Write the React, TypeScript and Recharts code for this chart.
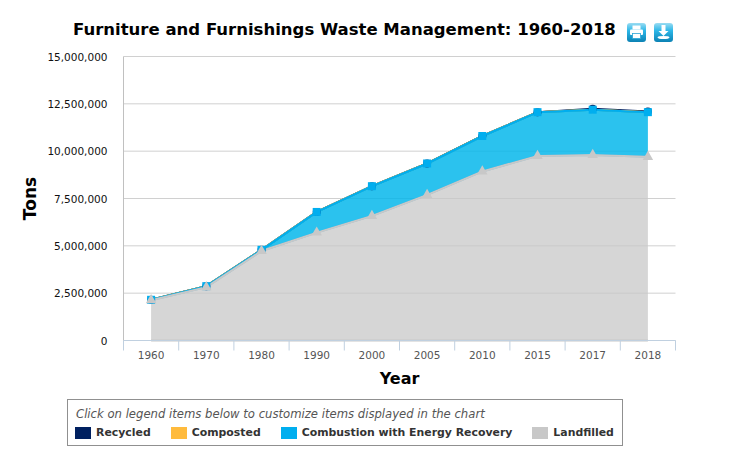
import {
  Area,
  AreaChart,
  CartesianGrid,
  ReferenceArea,
  Symbols,
  XAxis,
  YAxis,
} from "recharts";

const years = ["1960", "1970", "1980", "1990", "2000", "2005", "2010", "2015", "2017", "2018"];
const recycled = [0, 0, 0, 0, 0, 0, 0, 0, 50000, 40000];
const composted = [0, 0, 0, 0, 0, 0, 0, 0, 0, 0];
const combustion = [20000, 50000, 60000, 1090000, 1570000, 1660000, 1870000, 2310000, 2390000, 2360000];
const landfilled = [2130000, 2820000, 4730000, 5700000, 6580000, 7690000, 8930000, 9750000, 9800000, 9700000];
const yTicks = [0, 2500000, 5000000, 7500000, 10000000, 12500000, 15000000];
const legendNames = ["Recycled", "Composted", "Combustion with Energy Recovery", "Landfilled"];
const legendColors = ["#002060", "#FFBB3D", "#00AEEF", "#C8C8C8"];

const COLORS = { recycled: "#002060", composted: "#FFBB3D", combustion: "#00AEEF", landfilled: "#C8C8C8" };
const FONT = "'DejaVu Sans', sans-serif";
const WIDTH = 731;
const HEIGHT = 450;
const PLOT_LEFT = 123.5;
const PLOT_RIGHT = 675.5;
const PLOT_TOP = 56.5;
const PLOT_BOTTOM = 340.5;
const BAND = (PLOT_RIGHT - PLOT_LEFT) / years.length;
const AXIS_BLUE = "#C0D0E0";

// stacked by hand so landfilled is drawn last, on top of the others
const data = years.map((year, i) => {
  const a = landfilled[i];
  const b = a + combustion[i];
  const c = b + composted[i];
  const d = c + recycled[i];
  return {
    year,
    landfilled: [0, a],
    combustion: [a, b],
    composted: [b, c],
    recycled: [c, d],
  };
});

const XTick = ({ x, y, payload, index }: any) => (
  <g>
    <line x1={x - BAND / 2} x2={x - BAND / 2} y1={y - 10} y2={y} stroke={AXIS_BLUE} />
    {index === years.length - 1 && (
      <line x1={x + BAND / 2} x2={x + BAND / 2} y1={y - 10} y2={y} stroke={AXIS_BLUE} />
    )}
    <text x={x} y={y + 8.5} textAnchor="middle" fontSize={10.5} fontFamily={FONT} fill="#555555">
      {payload.value}
    </text>
  </g>
);

const marker = (type: any, size: number, color: string) => (props: any) => (
  <Symbols key={props.index} type={type} size={size} cx={props.cx} cy={props.cy} fill={color} stroke="none" />
);

const LegendBox = () => (
  <div
    style={{
      position: "absolute",
      left: 67,
      top: 399,
      boxSizing: "border-box",
      width: 556,
      height: 47,
      border: "1px solid #909090",
      padding: "6px 7px",
      fontFamily: FONT,
    }}
  >
    <div style={{ fontSize: 11.65, fontStyle: "italic", color: "#555555", lineHeight: "16px", paddingLeft: 1 }}>
      Click on legend items below to customize items displayed in the chart
    </div>
    <div style={{ display: "flex", marginTop: 4 }}>
      {legendNames.map((name, i) => (
        <div key={name} style={{ display: "flex", alignItems: "center", marginRight: 20, whiteSpace: "nowrap" }}>
          <span style={{ width: 16, height: 12, background: legendColors[i], marginRight: 5 }} />
          <span style={{ fontSize: 10.9, fontWeight: "bold", color: "#333333", lineHeight: "14px" }}>{name}</span>
        </div>
      ))}
    </div>
  </div>
);

const IconButton = ({ left, children }: { left: number; children: React.ReactNode }) => (
  <svg width={19} height={19} viewBox="0 0 19 19" style={{ position: "absolute", left, top: 23 }}>
    <defs>
      <linearGradient id={`btn${left}`} x1="0" y1="0" x2="0" y2="1">
        <stop offset="0" stopColor="#9ADCF2" />
        <stop offset="0.4" stopColor="#2DB7E8" />
        <stop offset="1" stopColor="#0C82B4" />
      </linearGradient>
    </defs>
    <rect width={19} height={19} rx={3} fill={`url(#btn${left})`} />
    {children}
  </svg>
);

export default function App() {
  return (
    <div style={{ position: "absolute", left: 0, top: 0, width: WIDTH, height: HEIGHT, background: "#fff" }}>
      <div
        style={{
          position: "absolute",
          left: 73,
          top: 19,
          fontFamily: FONT,
          fontSize: 16.5,
          fontWeight: "bold",
          color: "#000",
          whiteSpace: "nowrap",
          lineHeight: "22px",
        }}
      >
        Furniture and Furnishings Waste Management: 1960-2018
      </div>
      <IconButton left={627}>
        <rect x={5.5} y={2.5} width={8} height={4} fill="#fff" />
        <rect x={3} y={6.5} width={13} height={5.5} rx={1} fill="#fff" />
        <rect x={5.5} y={10.5} width={8} height={5} fill="#fff" stroke="#2DA6D6" strokeWidth={0.8} />
      </IconButton>
      <IconButton left={654}>
        <rect x={7.5} y={2} width={4} height={6} fill="#fff" />
        <polygon points="4.5,8 14.5,8 9.5,13" fill="#fff" />
        <ellipse cx={9.5} cy={14.5} rx={6} ry={1.6} fill="#fff" />
      </IconButton>
      <AreaChart
        width={WIDTH}
        height={HEIGHT}
        data={data}
        style={{ position: "absolute", left: 0, top: 0 }}
        margin={{ top: PLOT_TOP, right: WIDTH - PLOT_RIGHT, left: 0, bottom: 0 }}
      >
        <CartesianGrid vertical={false} stroke="#D0D0D0" />
        <ReferenceArea stroke="#C0C0C0" fill="none" fillOpacity={0} />
        <XAxis
          dataKey="year"
          height={HEIGHT - PLOT_BOTTOM}
          padding={{ left: BAND / 2, right: BAND / 2 }}
          tick={<XTick />}
          tickLine={false}
          tickSize={10}
          tickMargin={0}
          interval={0}
          stroke={AXIS_BLUE}
          label={{
            value: "Year",
            position: "insideTop",
            offset: 32,
            style: { fontFamily: FONT, fontSize: 16, fontWeight: "bold", fill: "#000" },
          }}
        />
        <YAxis
          width={PLOT_LEFT}
          domain={[0, 15000000]}
          ticks={yTicks}
          interval={0}
          tickLine={false}
          tickMargin={10}
          stroke="#C0C0C0"
          tick={{ fontSize: 10.5, fontFamily: FONT, fill: "#111111", dy: 0.5 }}
          tickFormatter={(value) => value.toLocaleString("en-US")}
          label={{
            value: "Tons",
            angle: -90,
            position: "insideLeft",
            offset: 30,
            style: { fontFamily: FONT, fontSize: 17, fontWeight: "bold", fill: "#000", textAnchor: "middle" },
          }}
        />
        <Area
          isAnimationActive={false}
          dataKey="recycled"
          name="Recycled"
          type="linear"
          stroke={COLORS.recycled}
          strokeWidth={2}
          fill={COLORS.recycled}
          fillOpacity={0.75}
          dot={marker("circle", 50, COLORS.recycled)}
        />
        <Area
          isAnimationActive={false}
          dataKey="composted"
          name="Composted"
          type="linear"
          stroke={COLORS.composted}
          strokeWidth={2}
          fill={COLORS.composted}
          fillOpacity={0.75}
          dot={marker("diamond", 16, COLORS.composted)}
        />
        <Area
          isAnimationActive={false}
          dataKey="combustion"
          name="Combustion with Energy Recovery"
          type="linear"
          stroke={COLORS.combustion}
          strokeWidth={2}
          fill="#00B6EB"
          fillOpacity={0.83}
          dot={marker("square", 64, COLORS.combustion)}
        />
        <Area
          isAnimationActive={false}
          dataKey="landfilled"
          name="Landfilled"
          type="linear"
          stroke={COLORS.landfilled}
          strokeWidth={2}
          fill={COLORS.landfilled}
          fillOpacity={0.75}
          dot={marker("triangle", 48, COLORS.landfilled)}
        />
      </AreaChart>
      <LegendBox />
    </div>
  );
}
